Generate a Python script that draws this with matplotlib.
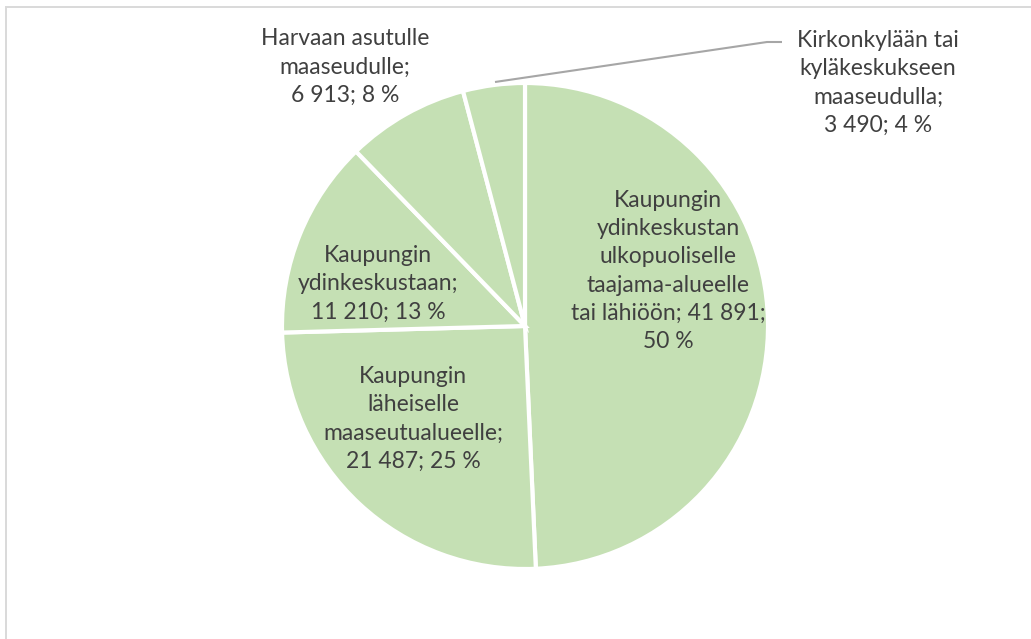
import matplotlib.pyplot as plt
from matplotlib.patches import Rectangle

# Data
names = [
    "Kaupungin\nydinkeskustan\nulkopuoliselle\ntaajama-alueelle\ntai lähiöön",
    "Kaupungin\nläheiselle\nmaaseutualueelle",
    "Kaupungin\nydinkeskustaan",
    "Harvaan asutulle\nmaaseudulle",
    "Kirkonkylään tai\nkyläkeskukseen\nmaaseudulla",
]
values = [41891, 21487, 11210, 6913, 3490]
percents = [50, 25, 13, 8, 4]


def fmt(v):
    return f"{v:,}".replace(",", " ")


labels = [
    names[0] + "; " + fmt(values[0]) + ";\n" + f"{percents[0]} %",
    names[1] + ";\n" + fmt(values[1]) + "; " + f"{percents[1]} %",
    names[2] + ";\n" + fmt(values[2]) + "; " + f"{percents[2]} %",
    names[3] + ";\n" + fmt(values[3]) + "; " + f"{percents[3]} %",
    names[4] + ";\n" + fmt(values[4]) + "; " + f"{percents[4]} %",
]

W, H = 1031, 639
green = "#C5E0B4"
text_color = "#404040"

fig = plt.figure(figsize=(W / 100, H / 100), dpi=100)
fig.patch.set_facecolor("white")

# chart area frame (right and bottom edges fall outside the picture)
fig.patches.append(
    Rectangle((6 / W, -0.1), 1.1, (H - 7) / H + 0.1, transform=fig.transFigure,
              facecolor="none", edgecolor="#D9D9D9", lw=1.4, zorder=0)
)

# pie: centre (525, 326) px, radius 243 px
cx, cy, r = 525, 326, 243
ax = fig.add_axes([(cx - r) / W, (H - cy - r) / H, 2 * r / W, 2 * r / H])
ax.pie(
    values,
    startangle=90,
    counterclock=False,
    colors=[green] * len(values),
    wedgeprops={"edgecolor": "white", "linewidth": 3.0},
    radius=1,
)
ax.set_xlim(-1, 1)
ax.set_ylim(-1, 1)
ax.set_aspect("equal")
ax.axis("off")


def to_data(px, py):
    return (px - cx) / r, (cy - py) / r


label_px = [(668, 271), (413, 419), (378, 284), (345, 67), (878, 83)]
font = dict(family="Lato", size=16.5, color=text_color, ha="center", va="center",
            linespacing=1.42)
for lab, (px, py) in zip(labels, label_px):
    x, y = to_data(px, py)
    ax.text(x, y, lab, clip_on=False, **font)

# leader line for the smallest slice
pts = [to_data(495, 82), to_data(767, 42), to_data(782, 42)]
ax.plot([p[0] for p in pts], [p[1] for p in pts], color="#A6A6A6", lw=1.5,
        clip_on=False, solid_capstyle="butt")

fig.savefig("out.png", dpi=100)
